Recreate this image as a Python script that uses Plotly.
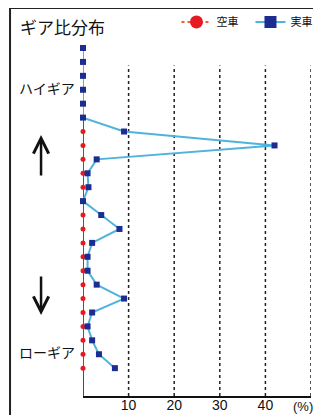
import plotly.graph_objects as go

# ---- data ----
gears = list(range(1, 25))  # gear steps, top = high gear, bottom = low gear
kusha = [0, 0, 0, 0, 0, 0, 0, 0, 0, 0, 0, 0, 0, 0, 0, 0, 0, 0, 0, 0, 0, 0, 0, 0]  # 空車 (%)
jissha = [0, 0, 0, 0, 0, 0, 9, 42, 3, 1, 1.2, 0, 4, 8, 2, 1, 1, 3, 9, 2, 1, 2, 3.5, 7]  # 実車 (%)
tick_vals = [10, 20, 30, 40, 50]
tick_text = ["10", "20", "30", "40", ""]
unit_label = "(%)"
series_names = ["空車", "実車"]

RED = "#e51b20"
CYAN = "#4fb3dc"
NAVY = "#1c2d91"
JP = "Noto Sans CJK JP"

fig = go.Figure()

fig.add_trace(go.Scatter(
    x=kusha, y=gears, mode="lines+markers", name=series_names[0],
    line=dict(color=RED, width=2),
    marker=dict(symbol="circle", size=5, color=RED),
    cliponaxis=False, showlegend=False))

fig.add_trace(go.Scatter(
    x=jissha, y=gears, mode="lines+markers", name=series_names[1],
    line=dict(color=CYAN, width=2),
    marker=dict(symbol="square", size=6, color=NAVY),
    cliponaxis=False, showlegend=False))

# legend entries
fig.add_trace(go.Scatter(
    x=[None], y=[None], mode="lines+markers", name=series_names[0],
    line=dict(color="#f06030", width=2, dash="dot"),
    marker=dict(symbol="circle", size=13, color=RED)))
fig.add_trace(go.Scatter(
    x=[None], y=[None], mode="lines+markers", name=series_names[1],
    line=dict(color=CYAN, width=2),
    marker=dict(symbol="square", size=12, color=NAVY)))

y_bottom = 26
grid_top = 2.25
shapes = []
for t in tick_vals:
    shapes.append(dict(type="line", xref="x", yref="y", x0=t, x1=t,
                       y0=y_bottom, y1=grid_top, layer="below",
                       line=dict(color="#222", width=1.5, dash="3px,3px")))
# vertical axis line (drawn beneath the series)
shapes.append(dict(type="line", xref="x", yref="y", x0=0, x1=0,
                   y0=y_bottom, y1=gears[0], layer="below",
                   line=dict(color="#111", width=1.5)))
# outer frame
shapes.append(dict(type="rect", xref="paper", yref="paper",
                   x0=-0.32, x1=1.3, y0=-0.3, y1=1.115,
                   line=dict(color="#222", width=2)))

annotations = [
    dict(x=-0.158, y=0.885, xref="paper", yref="paper", text="ハイギア", showarrow=False,
         xanchor="center", yanchor="middle",
         font=dict(family=JP, size=14, color="#111")),
    dict(x=-0.158, y=0.126, xref="paper", yref="paper", text="ローギア", showarrow=False,
         xanchor="center", yanchor="middle",
         font=dict(family=JP, size=14, color="#111")),
    # up arrow
    dict(x=-0.184, y=0.75, xref="paper", yref="paper", text="", showarrow=True,
         ax=0, ay=42, arrowhead=5, arrowwidth=2.5, arrowsize=1.2, arrowcolor="#111"),
    # down arrow
    dict(x=-0.184, y=0.233, xref="paper", yref="paper", text="", showarrow=True,
         ax=0, ay=-40, arrowhead=5, arrowwidth=2.5, arrowsize=1.2, arrowcolor="#111"),
    # unit label at end of x axis
    dict(x=tick_vals[-1], y=0, xref="x", yref="paper", text=unit_label, showarrow=False,
         xanchor="right", yanchor="top", xshift=4, yshift=-1,
         font=dict(family="Liberation Sans", size=13, color="#111")),
]

fig.update_layout(
    width=313, height=407,
    margin=dict(l=75, r=10, t=40, b=19, autoexpand=False),
    paper_bgcolor="white", plot_bgcolor="white",
    title=dict(text="ギア比分布", x=12/313, xanchor="left",
               y=1 - 20/407, yanchor="middle", xref="container", yref="container",
               font=dict(family=JP, size=17, color="#111")),
    legend=dict(orientation="h", x=0.41, xanchor="left", y=1.075, yanchor="middle",
                entrywidth=29, entrywidthmode="pixels",
                font=dict(family=JP, size=11, color="#111"),
                bgcolor="rgba(0,0,0,0)"),
    xaxis=dict(range=[0, 50], tickvals=tick_vals, ticktext=tick_text,
               showgrid=False, zeroline=False, showline=True,
               linecolor="#111", linewidth=1.5, ticks="",
               ticklabeloverflow="allow", ticklabelstandoff=-5,
               tickfont=dict(family="Liberation Sans", size=14, color="#111")),
    yaxis=dict(range=[y_bottom, 1], showgrid=False, zeroline=False,
               showline=False, showticklabels=False, ticks=""),
    shapes=shapes, annotations=annotations,
)

fig.write_html("out.html")
